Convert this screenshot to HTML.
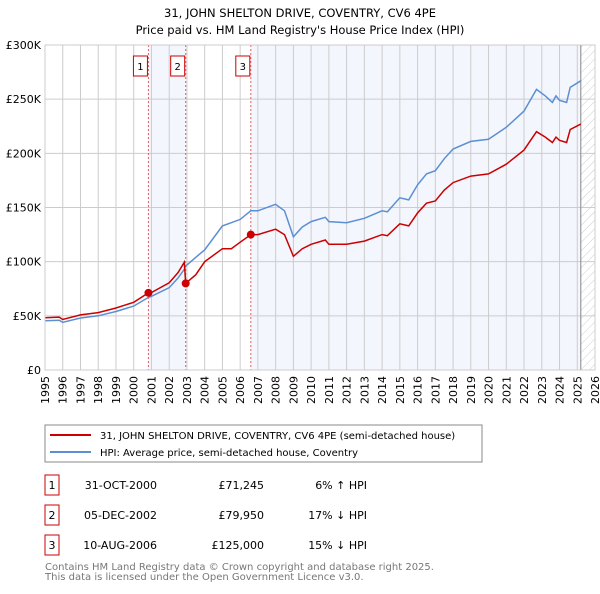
<!DOCTYPE html>
<html><head><meta charset="utf-8"><style>
body{margin:0;background:#fff;font-family:"DejaVu Sans","Liberation Sans",sans-serif;}
svg text{font-family:"DejaVu Sans","Liberation Sans",sans-serif;}
</style></head><body>
<svg id="c" width="600" height="590" xmlns="http://www.w3.org/2000/svg">
<defs><pattern id="hatch" width="6" height="6" patternUnits="userSpaceOnUse" patternTransform="rotate(45)"><line x1="0" y1="0" x2="0" y2="6" stroke="#ccc" stroke-width="1"/></pattern></defs>
<text x="300" y="17" text-anchor="middle" font-size="11.5" fill="#000">31, JOHN SHELTON DRIVE, COVENTRY, CV6 4PE</text>
<text x="300" y="34" text-anchor="middle" font-size="11.5" fill="#000">Price paid vs. HM Land Registry's House Price Index (HPI)</text>
<g id="plot"></g>
<rect x="45" y="425" width="437" height="37" fill="#fff" stroke="#888"/>
<line x1="50" y1="435" x2="91" y2="435" stroke="#cc0000" stroke-width="2"/>
<text x="100" y="439" font-size="10">31, JOHN SHELTON DRIVE, COVENTRY, CV6 4PE (semi-detached house)</text>
<line x1="50" y1="452" x2="91" y2="452" stroke="#5b8fd4" stroke-width="2"/>
<text x="100" y="456" font-size="10">HPI: Average price, semi-detached house, Coventry</text>
<g id="table" font-size="11"></g>
<text x="45" y="570" font-size="10" fill="#777">Contains HM Land Registry data © Crown copyright and database right 2025.</text>
<text x="45" y="580" font-size="10" fill="#777">This data is licensed under the Open Government Licence v3.0.</text>
</svg>
<script>
const years=[1995,1995.8,1996,1997,1998,1999,2000,2000.83,2001,2002,2002.5,2002.85,2002.93,2003.5,2004,2005,2005.5,2006,2006.6,2007,2008,2008.5,2009,2009.5,2010,2010.8,2011,2012,2013,2014,2014.3,2015,2015.5,2016,2016.5,2017,2017.5,2018,2019,2020,2021,2022,2022.7,2023.2,2023.6,2023.8,2024,2024.4,2024.6,2025.2];
const hpiValues=[45.5,46,44,48,50,54,59,67,68,76,85,93,96,104,111,133,136,139,147,147,153,147,123,132,137,141,137,136,140,147,146,159,157,171,181,184,195,204,211,213,224,239,259,253,247,253,249,247,261,267];
const priceValues=[48.2,48.8,46.6,50.9,53,57.2,62.5,71.2,71.5,80.5,90,99.5,80,88,100,112,112,118,125,125,130,125,105,112,116,120,116,116,119,125,124,135,133,145,154,156,166,173,179,181,190,203,220,215,210,215,212,210,222,227];
const saleYears=[2000.83,2002.93,2006.6];
const salePrices=[71.245,79.95,125];
const saleLabels=["1","2","3"];
const saleDates=["31-OCT-2000","05-DEC-2002","10-AUG-2006"];
const saleAmounts=["£71,245","£79,950","£125,000"];
const saleDiffs=["6% ↑ HPI","17% ↓ HPI","15% ↓ HPI"];
const yTicks=[0,50,100,150,200,250,300];
const yTickLabels=["£0","£50K","£100K","£150K","£200K","£250K","£300K"];
const xTicks=[];for(let y=1995;y<=2026;y++)xTicks.push(y);
const dataEnd=2025.2;

const NS="http://www.w3.org/2000/svg";
const L=45,R=595,T=45,B=370,X0=1995,X1=2026,YMAX=300;
const sx=v=>L+(v-X0)/(X1-X0)*(R-L);
const sy=v=>B-v/YMAX*(B-T);
const g=document.getElementById('plot');
function mk(tag,at,parent){const e=document.createElementNS(NS,tag);for(const k in at)e.setAttribute(k,at[k]);(parent||g).appendChild(e);return e;}

let e;
e=mk('rect',{x:L,y:T,width:R-L,height:B-T,fill:'#fff'});


e=mk('rect',{x:sx(saleYears[0]),y:T,width:sx(saleYears[1])-sx(saleYears[0]),height:B-T,fill:'#f3f6fd'});


e=mk('rect',{x:sx(saleYears[2]),y:T,width:sx(dataEnd)-sx(saleYears[2]),height:B-T,fill:'#f3f6fd'});


e=mk('rect',{x:sx(dataEnd),y:T,width:R-sx(dataEnd),height:B-T,fill:'url(#hatch)'});


xTicks.forEach(y=>{e=mk('line',{x1:sx(y),y1:T,x2:sx(y),y2:B,stroke:'#ccc','stroke-width':1});


const t=mk('text',{x:0,y:0,'font-size':11,'text-anchor':'end',transform:`translate(${sx(y)+4},${B+6}) rotate(-90)`});t.textContent=y;

});
yTicks.forEach((v,i)=>{e=mk('line',{x1:L,y1:sy(v),x2:R,y2:sy(v),stroke:'#ccc','stroke-width':1});


const t=mk('text',{x:L-4,y:sy(v)+4,'font-size':11,'text-anchor':'end'});t.textContent=yTickLabels[i];

});
e=mk('line',{x1:sx(dataEnd),y1:T,x2:sx(dataEnd),y2:B,stroke:'#888','stroke-width':1});


saleYears.forEach((y,i)=>{e=mk('line',{x1:sx(y),y1:T,x2:sx(y),y2:B,stroke:'#e06060','stroke-width':1,'stroke-dasharray':'2,2'});


const bx=sx(y)-12;
e=mk('rect',{x:bx-3,y:56,width:14,height:20,fill:'#fff',stroke:'#cc0000'});


const t=mk('text',{x:bx+4,y:70,'font-size':10,'text-anchor':'middle'});t.textContent=saleLabels[i];

});
function path(vals){return vals.map((v,i)=>(i?'L':'M')+sx(years[i]).toFixed(1)+','+sy(v).toFixed(1)).join('');}
e=mk('path',{d:path(hpiValues),fill:'none',stroke:'#5b8fd4','stroke-width':1.5});


e=mk('path',{d:path(priceValues),fill:'none',stroke:'#cc0000','stroke-width':1.5});


saleYears.forEach((y,i)=>{e=mk('circle',{cx:sx(y),cy:sy(salePrices[i]),r:4,fill:'#cc0000'});

});
e=mk('rect',{x:L,y:T,width:R-L,height:B-T,fill:'none',stroke:'#ccc'});



const tb=document.getElementById('table');
saleLabels.forEach((lab,i)=>{const cy=483+i*30;
e=mk('rect',{x:45,y:cy-8,width:14,height:20,fill:'#fff',stroke:'#cc0000'},tb);


const cols=[[52,lab,'middle'],[157,saleDates[i],'end'],[264,saleAmounts[i],'end'],[367,saleDiffs[i],'end']];
const names=['table-row-number','table-date','table-price','table-hpi-diff'];
cols.forEach((c,j)=>{const t=mk('text',{x:c[0],y:cy+6,'text-anchor':c[2]},tb);t.textContent=c[1];

});});
</script>
</body></html>
